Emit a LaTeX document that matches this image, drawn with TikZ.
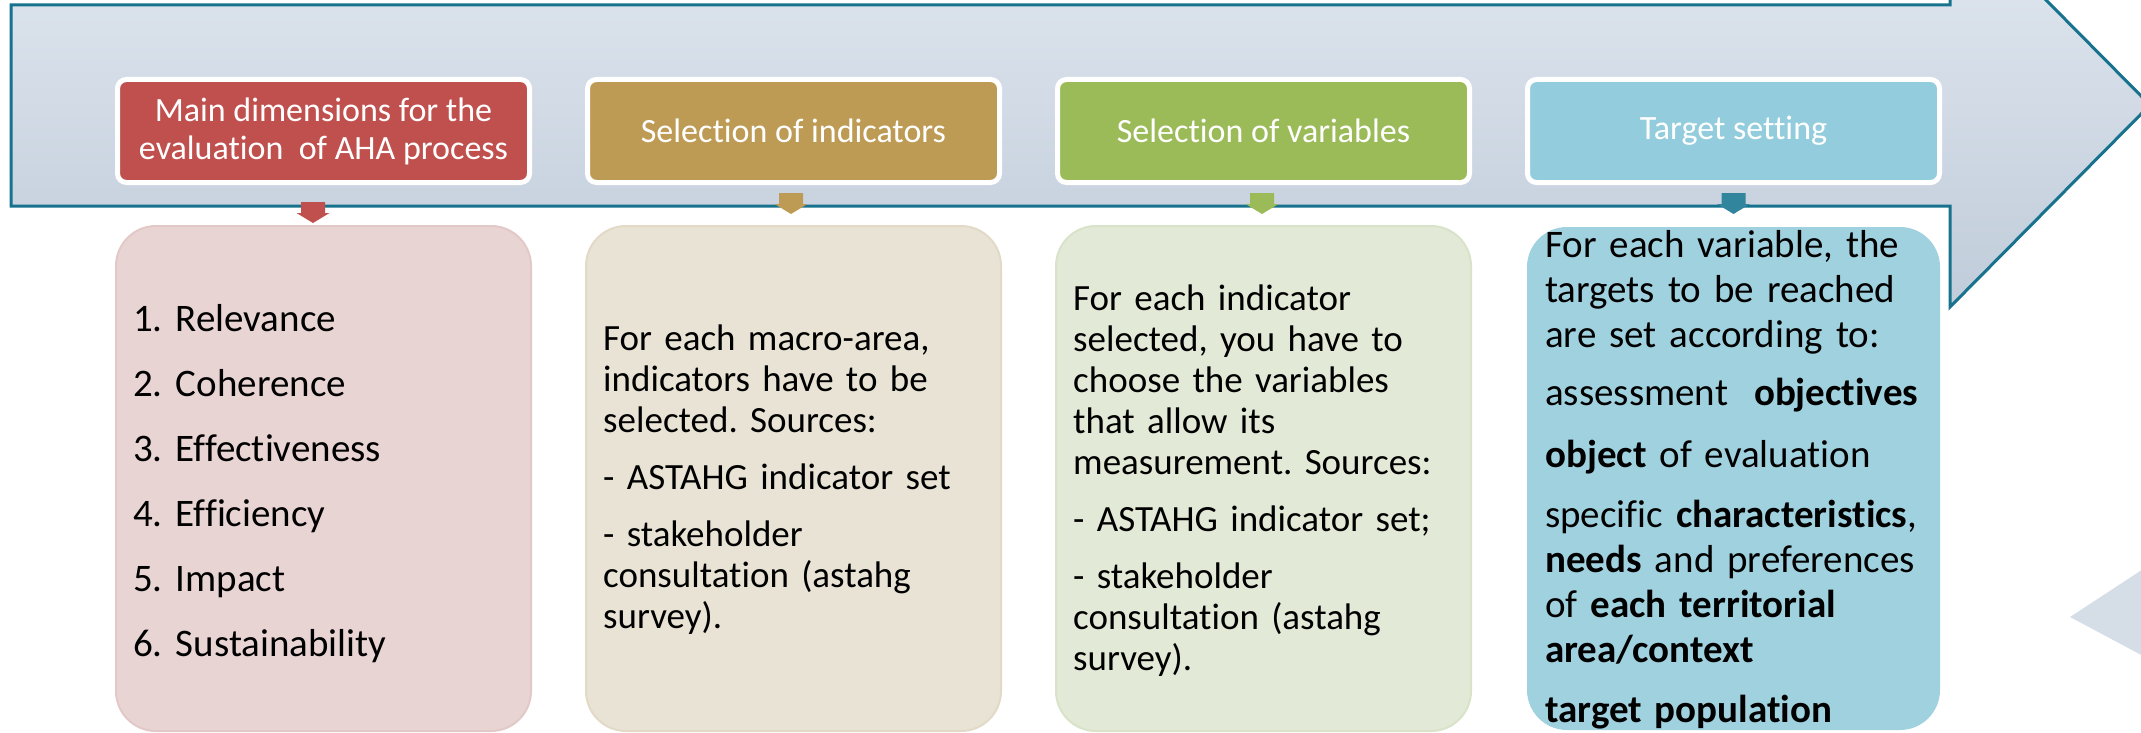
\documentclass[tikz,border=0pt]{standalone}
\usepackage{fontspec}
\setmainfont{Carlito}[Ligatures=NoCommon]
\frenchspacing
\usetikzlibrary{calc}
\definecolor{arrowtop}{HTML}{E3E9F1}
\definecolor{arrowbot}{HTML}{C0CCDA}
\definecolor{arrowline}{HTML}{17728E}
\definecolor{hred}{HTML}{C0504D}
\definecolor{htan}{HTML}{BD9B55}
\definecolor{hgreen}{HTML}{9BBB59}
\definecolor{hblue}{HTML}{93CDDD}
\definecolor{mblue}{HTML}{31859C}
\definecolor{cred}{HTML}{E9D4D4}
\definecolor{credl}{HTML}{E3C8C8}
\definecolor{ctan}{HTML}{E8E3D4}
\definecolor{ctanl}{HTML}{E2DAC6}
\definecolor{cgreen}{HTML}{E2E9D6}
\definecolor{cgreenl}{HTML}{D9E3C9}
\definecolor{cblue}{HTML}{A0D1DF}
\definecolor{trifill}{HTML}{D5DEE7}
\tikzset{
  hdr/.style={draw=white, line width=5pt, rounded corners=9pt, minimum width=412pt,
    minimum height=103pt, inner sep=0pt, text=white, font=\fontsize{34}{38}\selectfont, align=center},
  cbox/.style={rounded corners=40pt, minimum width=415pt, minimum height=505pt, inner sep=0pt, line width=2pt},
  txt/.style={anchor=base west, inner sep=0pt, align=left, text width=430pt},
  downmark/.pic={\fill[#1] (-12,0) -- (12,0) -- (12,11) -- (16.5,11) -- (0,21) -- (-16.5,11) -- (-12,11) -- cycle;}
}
\begin{document}
\begin{tikzpicture}[x=1pt,y=-1pt]
\useasboundingbox (0,0) rectangle (2141,733);
\clip (0,0) rectangle (2141,733);
% big process arrow
\path[top color=arrowtop, bottom color=arrowbot, draw=arrowline, line width=3pt, line join=miter]
  (11,5) -- (1950,5) -- (1950,-97) -- (2150,105) -- (1950,307) -- (1950,206) -- (11,206) -- cycle;
% partial triangle at lower right
\fill[trifill] (2070,617) -- (2160,558) -- (2160,665) -- cycle;
% headers
\node[hdr, fill=hred]   (h1) at (323.5,131) {Main dimensions for the\\evaluation~ of AHA process};
\node[hdr, fill=htan]   (h2) at (793.5,131) {Selection of indicators};
\node[hdr, fill=hgreen] (h3) at (1263.5,131) {Selection of variables};
\node[hdr, fill=hblue]  (h4) at (1733.5,131) {Target setting};
% content boxes
\node[cbox, fill=cred, draw=credl]     (c1) at (323.5,478.5) {};
\node[cbox, fill=ctan, draw=ctanl]     (c2) at (793.5,478.5) {};
\node[cbox, fill=cgreen, draw=cgreenl] (c3) at (1263.5,478.5) {};
\node[cbox, fill=cblue, minimum width=413pt, minimum height=503pt] (c4) at (1733.5,478.5) {};
% markers
\pic at ($(h1.south)+(-10.5,17)$) {downmark=hred};
\pic at ($(h2.south)+(-2.5,8)$) {downmark=htan};
\pic at ($(h3.south)+(-1.5,8)$) {downmark=hgreen};
\pic at ($(h4.south)+(0,8)$) {downmark=mblue};
% texts
\node[txt, font=\fontsize{39}{65}\selectfont] (t1) at (133,331)
  {1. Relevance\\2. Coherence\\3. Effectiveness\\4. Efficiency\\5. Impact\\6. Sustainability};
\node[txt, font=\fontsize{37}{41}\selectfont] (t2) at (603,350)
  {For each macro-area,\\indicators have to be\\selected. Sources:\\[16pt]- ASTAHG indicator set\\[16pt]- stakeholder\\consultation (astahg\\survey).};
\node[txt, font=\fontsize{37}{41}\selectfont] (t3) at (1073,310)
  {For each indicator\\selected, you have to\\choose the variables\\that allow its\\measurement. Sources:\\[16pt]- ASTAHG indicator set;\\[16pt]- stakeholder\\consultation (astahg\\survey).};
\node[txt, font=\fontsize{39}{45}\selectfont] (t4) at (1545,257)
  {For each variable, the\\targets to be reached\\are set according to:\\[13pt]assessment~ \textbf{objectives}\\[17pt]\textbf{object} of evaluation\\[15pt]specific \textbf{characteristics},\\\textbf{needs} and preferences\\of \textbf{each territorial}\\\textbf{area/context}\\[15pt]\textbf{target population}};
\end{tikzpicture}
\end{document}
